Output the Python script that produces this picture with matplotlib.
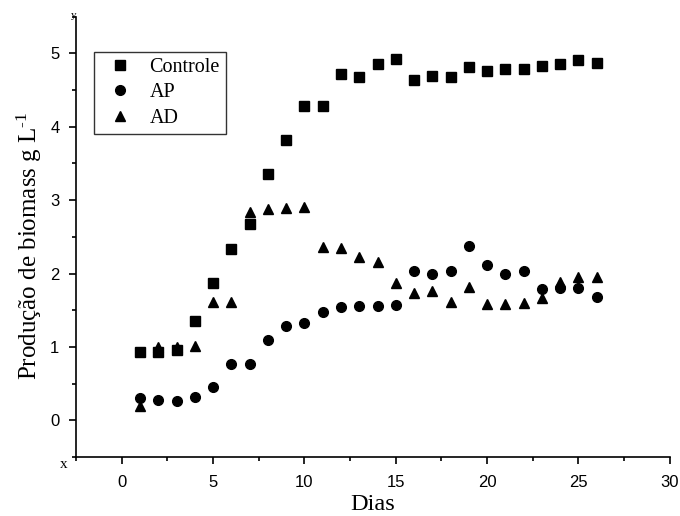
import matplotlib
matplotlib.use("Agg")
import matplotlib.pyplot as plt
from matplotlib.ticker import MultipleLocator

days = list(range(1, 27))
controle = [0.93, 0.93, 0.96, 1.35, 1.87, 2.34, 2.68, 3.35, 3.82, 4.28, 4.28, 4.72, 4.68, 4.86, 4.92,
            4.64, 4.69, 4.68, 4.81, 4.76, 4.79, 4.79, 4.82, 4.86, 4.91, 4.87]
ap = [0.31, 0.28, 0.26, 0.32, 0.46, 0.77, 0.77, 1.09, 1.29, 1.33, 1.48, 1.55, 1.56, 1.56, 1.57,
      2.03, 1.99, 2.03, 2.37, 2.12, 1.99, 2.04, 1.79, 1.81, 1.81, 1.68]
ad = [0.19, 1.00, 1.00, 1.02, 1.61, 1.61, 2.84, 2.88, 2.89, 2.90, 2.36, 2.35, 2.22, 2.16, 1.87,
      1.74, 1.76, 1.61, 1.82, 1.59, 1.58, 1.60, 1.67, 1.88, 1.96, 1.95]

serif = 'Liberation Serif'
plt.rcParams['font.family'] = ['Liberation Sans', 'DejaVu Sans']
plt.rcParams['mathtext.fontset'] = 'custom'
plt.rcParams['mathtext.rm'] = serif
plt.rcParams['mathtext.it'] = serif

fig = plt.figure(figsize=(6.8, 5.16), dpi=100)
ax = fig.add_axes([0.112, 0.114, 0.873, 0.854])

ax.plot(days, controle, 's', color='black', markersize=6.5, label='Controle', linestyle='none')
ax.plot(days, ap, 'o', color='black', markersize=7, label='AP', linestyle='none')
ax.plot(days, ad, '^', color='black', markersize=7.5, label='AD', linestyle='none')

ax.set_xlim(-2.5, 30)
ax.set_ylim(-0.5, 5.5)
ax.xaxis.set_major_locator(MultipleLocator(5))
ax.xaxis.set_minor_locator(MultipleLocator(2.5))
ax.yaxis.set_major_locator(MultipleLocator(1))
ax.yaxis.set_minor_locator(MultipleLocator(0.5))
ax.spines['top'].set_visible(False)
ax.spines['right'].set_visible(False)
for s in ['left', 'bottom']:
    ax.spines[s].set_linewidth(1.2)
ax.tick_params(which='major', direction='out', length=5, width=1.2, labelsize=12)
ax.tick_params(axis='x', which='major', pad=8)
ax.tick_params(axis='y', which='major', pad=7)
ax.tick_params(which='minor', direction='out', length=3, width=1.2)

ax.set_xlabel('Dias', fontsize=17.5, fontfamily=serif, labelpad=3)
ax.set_ylabel('Produção de biomass g L$^{\\mathrm{\u2010}1}$', fontsize=18, fontfamily=serif)
ax.yaxis.set_label_coords(-0.055, 0.479)

leg = ax.legend(loc='upper left', bbox_to_anchor=(0.03, 0.919), frameon=True, fancybox=False,
                edgecolor='black', prop={'family': serif, 'size': 14.5}, handletextpad=0.45,
                borderpad=0.3, labelspacing=0.3, handlelength=2.0, borderaxespad=0)
leg.get_frame().set_linewidth(1.0)

fig.text(0.093, 0.099, 'x', fontsize=11, fontfamily=serif, ha='center', va='center')
fig.text(0.108, 0.970, 'y', fontsize=8, fontfamily=serif, ha='center', va='center')

fig.savefig('out.png', dpi=100)
